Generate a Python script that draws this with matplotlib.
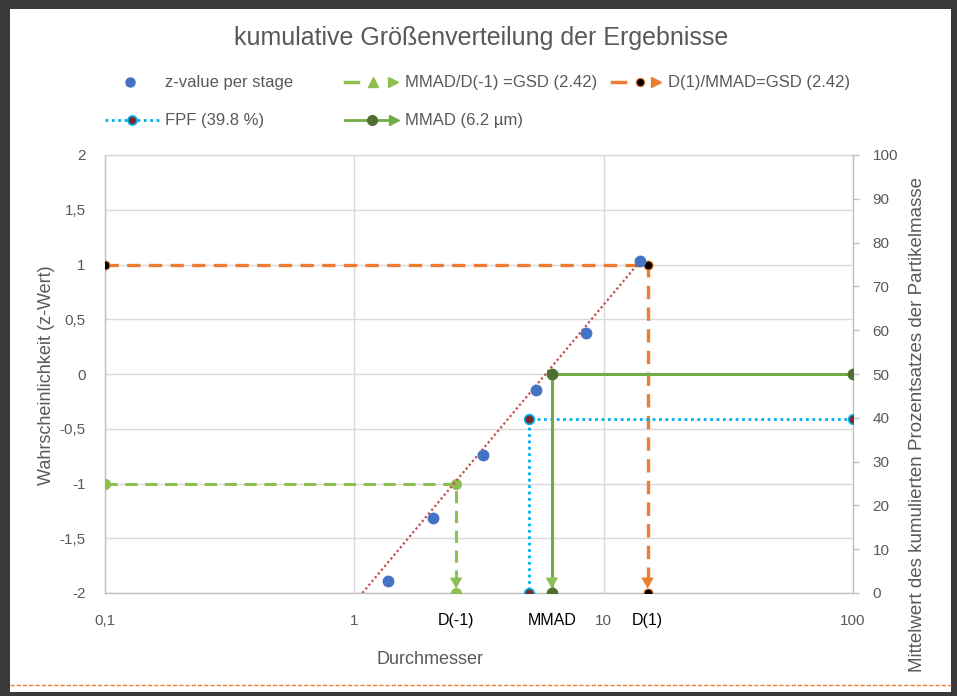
"""Kumulative Groessenverteilung: z-Wert je Stufe ueber Durchmesser (log), mit MMAD/GSD/FPF-Hilfslinien."""

import matplotlib

matplotlib.use("Agg")
import matplotlib.pyplot as plt
from matplotlib.lines import Line2D
from matplotlib.patches import Rectangle
from matplotlib.ticker import FixedLocator, FixedFormatter

plt.rcParams["font.family"] = ["Liberation Sans", "DejaVu Sans"]

# --- data ------------------------------------------------------------------
stage_diam = [1.36, 2.07, 3.29, 5.37, 8.53, 14.0]
stage_z = [-1.89, -1.315, -0.74, -0.146, 0.374, 1.03]

trend_x = [1.077, 13.65]
trend_z = [-2.0, 1.0]

mmad = 6.2
gsd = 2.42
d_minus1 = 2.56
d_plus1 = 15.0
fpf = 39.8
fpf_cut = 5.0

dm1_x = [0.1, d_minus1, d_minus1]
dm1_z = [-1.0, -1.0, -2.0]
dp1_x = [0.1, d_plus1, d_plus1]
dp1_z = [1.0, 1.0, -2.0]
fpf_x = [100, fpf_cut, fpf_cut]
fpf_y = [fpf, fpf, 0]
mmad_x = [100, mmad, mmad]
mmad_y = [50, 50, 0]

left_ticks = [-2, -1.5, -1, -0.5, 0, 0.5, 1, 1.5, 2]
left_labels = ["-2", "-1,5", "-1", "-0,5", "0", "0,5", "1", "1,5", "2"]
x_ticks = [0.1, 1, 10, 100]
x_labels = ["0,1", "1", "10", "100"]
right_ticks = [0, 10, 20, 30, 40, 50, 60, 70, 80, 90, 100]

# --- colours ----------------------------------------------------------------
BLUE = "#4472C4"
ORANGE = "#ED7D31"
GREEN = "#70AD47"
LGREEN = "#8CC152"
DGREEN = "#4F6F2F"
CYAN = "#00B0F0"
DRED = "#7B2A2A"
TREND = "#C0504D"
TXT = "#595959"
GRID = "#D9D9D9"
AXIS = "#BFBFBF"

W, H = 957, 696
fig = plt.figure(figsize=(W / 100, H / 100), dpi=100)
fig.patch.set_facecolor("#3A3A3A")


def fx(px):
    return px / W


def fy(py):
    return 1 - py / H


fig.add_artist(Rectangle((fx(10), fy(692)), fx(951) - fx(10), fy(9) - fy(692),
                         transform=fig.transFigure, facecolor="white", edgecolor="none", zorder=-10))
fig.add_artist(Line2D([fx(10), fx(951)], [fy(685), fy(685)], transform=fig.transFigure,
                      color=ORANGE, lw=1.0, ls=(0, (3, 1.5))))

ax = fig.add_axes([fx(105), fy(593), fx(853) - fx(105), fy(155) - fy(593)])
ax.set_facecolor("none")
ax.set_xscale("log")
ax.set_xlim(0.1, 100)
ax.set_ylim(-2, 2)
ax.xaxis.set_major_locator(FixedLocator(x_ticks))
ax.xaxis.set_major_formatter(FixedFormatter(x_labels))
ax.xaxis.set_minor_locator(FixedLocator([]))
ax.yaxis.set_major_locator(FixedLocator(left_ticks))
ax.yaxis.set_major_formatter(FixedFormatter(left_labels))
ax.grid(True, color=GRID, lw=1.0)
ax.set_axisbelow(True)
ax.tick_params(axis="both", length=0, colors=TXT, labelsize=11)
ax.tick_params(axis="x", pad=15)
ax.tick_params(axis="y", pad=14)
for name, spine in ax.spines.items():
    spine.set_color(AXIS if name in ("left", "bottom") else GRID)
    spine.set_linewidth(1.0)

ax2 = ax.twinx()
ax2.set_ylim(0, 100)
ax2.yaxis.set_major_locator(FixedLocator(right_ticks))
ax2.tick_params(axis="y", length=4, width=1, color=AXIS, colors=TXT, labelsize=11, pad=10)
ax2.tick_params(axis="y", color=AXIS)
for name, spine in ax2.spines.items():
    spine.set_visible(name == "right")
ax2.spines["right"].set_color(AXIS)

ARROW = "-|>,head_length=0.8,head_width=0.45"

# D(-1) and D(1) guide lines on the z axis
ax.plot(dm1_x, dm1_z, color=LGREEN, lw=2.2, ls=(0, (4, 2.5)), marker="o", ms=7,
        mfc=LGREEN, mec=LGREEN, zorder=3)
ax.plot(dp1_x, dp1_z, color=ORANGE, lw=2.4, ls=(0, (4, 2.5)), zorder=3)
ax.plot(dp1_x, dp1_z, ls="none", marker="o", ms=6.5, mfc="black", mec=ORANGE, mew=0.8, zorder=4)

for xv, col in ((d_minus1, LGREEN), (d_plus1, ORANGE)):
    ax.annotate("", xy=(xv, -1.96), xytext=(xv, -1.75),
                arrowprops=dict(arrowstyle=ARROW, color=col, lw=0, shrinkA=0, shrinkB=0),
                zorder=5)

# measured z per stage and trend
ax.plot(trend_x, trend_z, color=TREND, lw=1.6, ls=(0, (1, 1.2)), zorder=4)
ax.plot(stage_diam, stage_z, ls="none", marker="o", ms=7.5, color=BLUE, zorder=5)

# FPF and MMAD on the cumulative-mass axis
ax2.plot(fpf_x, fpf_y, color=CYAN, lw=2, ls=(0, (1, 1.3)), marker="o", ms=7,
         mfc=DRED, mec=CYAN, mew=1.2, zorder=3)
ax2.plot(mmad_x, mmad_y, color=GREEN, lw=2.2, zorder=3)
ax2.plot(mmad_x, mmad_y, ls="none", marker="o", ms=7.5, mfc=DGREEN, mec=DGREEN, zorder=4)
ax2.annotate("", xy=(mmad, 1.0), xytext=(mmad, 6.5),
             arrowprops=dict(arrowstyle=ARROW, color=LGREEN, lw=0, shrinkA=0, shrinkB=0),
             zorder=5)

# point labels below the x axis
xt = ax.get_xaxis_transform()
for xv, lab in ((d_minus1, "D(-1)"), (mmad, "MMAD"), (d_plus1, "D(1)")):
    ax.text(xv, -0.062, lab, transform=xt, ha="center", va="center",
            fontsize=11.5, color="black")

# titles and axis labels
fig.text(fx(481), fy(38), "kumulative Größenverteilung der Ergebnisse",
         ha="center", va="center", fontsize=18, color=TXT)
fig.text(fx(47), fy(375), "Wahrscheinlichkeit (z-Wert)", rotation=90,
         ha="center", va="center", fontsize=13, color=TXT)
fig.text(fx(917), fy(424), "Mittelwert des kumulierten Prozentsatzes der Partikelmasse",
         rotation=90, ha="center", va="center", fontsize=13.5, color=TXT)
fig.text(fx(430), fy(660), "Durchmesser", ha="center", va="center", fontsize=13, color=TXT)


# --- legend drawn by hand to mimic the spreadsheet layout -------------------
def leg_line(x0, x1, y, **kw):
    fig.add_artist(Line2D([fx(x0), fx(x1)], [fy(y), fy(y)], transform=fig.transFigure, **kw))


def leg_mark(x, y, **kw):
    fig.add_artist(Line2D([fx(x)], [fy(y)], transform=fig.transFigure, ls="none", **kw))


def leg_text(x, y, s):
    fig.text(fx(x), fy(y), s, ha="left", va="center", fontsize=12, color=TXT)


r1, r2 = 82, 120
leg_mark(130, r1, marker="o", ms=6.5, color=BLUE)
leg_text(165, r1, "z-value per stage")

leg_line(345, 358, r1, color=LGREEN, lw=2.5)
leg_mark(373, r1, marker="^", ms=7, color=LGREEN)
leg_mark(393, r1, marker=">", ms=6.5, color=LGREEN)
leg_text(405, r1, "MMAD/D(-1) =GSD (2.42)")

leg_line(612, 625, r1, color=ORANGE, lw=2.5)
leg_mark(640, r1, marker="o", ms=6, mfc="black", mec=ORANGE, mew=0.8)
leg_mark(656, r1, marker=">", ms=6.5, color=ORANGE)
leg_text(668, r1, "D(1)/MMAD=GSD (2.42)")

leg_line(105, 160, r2, color=CYAN, lw=2, ls=(0, (1, 1.3)))
leg_mark(132, r2, marker="o", ms=6.5, mfc=DRED, mec=CYAN, mew=1.2)
leg_text(165, r2, "FPF (39.8 %)")

leg_line(345, 395, r2, color=GREEN, lw=2)
leg_mark(372, r2, marker="o", ms=7, color=DGREEN)
leg_mark(394, r2, marker=">", ms=6.5, color=GREEN)
leg_text(405, r2, "MMAD (6.2 µm)")

fig.savefig("out.png", dpi=100, facecolor=fig.get_facecolor())
